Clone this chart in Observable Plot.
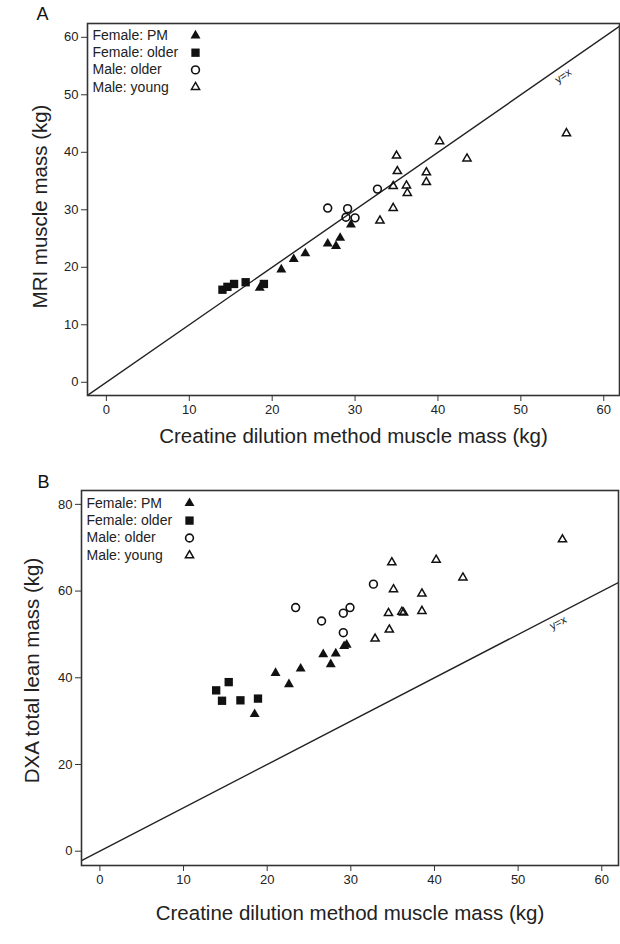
<!DOCTYPE html>
<html><head><meta charset="utf-8">
<script src="https://cdn.jsdelivr.net/npm/d3@7"></script>
<script src="https://cdn.jsdelivr.net/npm/@observablehq/plot@0.6"></script>
<style>body{margin:0;background:#fff;} #chart svg{display:block;}</style>
</head><body><div id="chart"></div>
<script>
const groups = ["Female: PM", "Female: older", "Male: older", "Male: young"];
const xTicks = [0, 10, 20, 30, 40, 50, 60];
const yTicksA = [0, 10, 20, 30, 40, 50, 60];
const yTicksB = [0, 20, 40, 60, 80];
const xTitle = "Creatine dilution method muscle mass (kg)";
const yTitleA = "MRI muscle mass (kg)";
const yTitleB = "DXA total lean mass (kg)";

// Panel A: creatine dilution vs MRI
const aFemalePMx = [18.5, 21.1, 22.6, 24.0, 26.7, 27.7, 28.2, 29.5];
const aFemalePMy = [16.4, 19.6, 21.4, 22.4, 24.1, 23.7, 25.1, 27.4];
const aFemaleOldx = [14.0, 14.6, 15.4, 16.8, 19.0];
const aFemaleOldy = [16.1, 16.6, 17.1, 17.4, 17.1];
const aMaleOldx = [26.7, 28.9, 29.1, 30.0, 32.7];
const aMaleOldy = [30.3, 28.7, 30.2, 28.6, 33.6];
const aMaleYoungx = [33.0, 34.6, 34.6, 35.0, 35.1, 36.2, 36.3, 38.6, 38.6, 40.2, 43.5, 55.5];
const aMaleYoungy = [28.1, 30.3, 34.1, 39.4, 36.7, 34.2, 32.9, 36.5, 34.8, 41.9, 38.9, 43.3];

// Panel B: creatine dilution vs DXA
const bFemalePMx = [18.5, 21.0, 22.6, 24.0, 26.7, 27.6, 28.2, 29.2, 29.5];
const bFemalePMy = [31.6, 41.1, 38.5, 42.1, 45.4, 43.1, 45.6, 47.3, 47.6];
const bFemaleOldx = [13.9, 14.6, 15.4, 16.8, 18.9];
const bFemaleOldy = [37.1, 34.7, 39.0, 34.8, 35.2];
const bMaleOldx = [23.4, 26.5, 29.1, 29.1, 29.9, 32.7];
const bMaleOldy = [56.2, 53.1, 50.4, 54.9, 56.2, 61.6];
const bMaleYoungx = [32.9, 34.5, 34.6, 34.9, 35.1, 36.1, 36.3, 38.5, 38.5, 40.2, 43.4, 55.3];
const bMaleYoungy = [49.0, 54.9, 51.1, 66.6, 60.4, 55.2, 55.0, 59.4, 55.4, 67.2, 63.1, 71.9];

const zip = (xs, ys) => xs.map((x, i) => ({x, y: ys[i]}));

const symbols = [
  {symbol: "triangle", fill: "#111", stroke: "none", r: 3.7, strokeWidth: 0},
  {symbol: "square", fill: "#111", stroke: "none", r: 4.7, strokeWidth: 0},
  {symbol: "circle", fill: "none", stroke: "#111", r: 3.9, strokeWidth: 1.6},
  {symbol: "triangle2", fill: "none", stroke: "#111", r: 3.9, strokeWidth: 1.5}
];

const font = "'Liberation Sans', Arial, Helvetica, sans-serif";

function panel(cfg) {
  const W = 620;
  const kx = (W - cfg.ml - cfg.mr) / (cfg.xDomain[1] - cfg.xDomain[0]);
  const ky = (cfg.height - cfg.mt - cfg.mb) / (cfg.yDomain[1] - cfg.yDomain[0]);
  const angle = -Math.atan(ky / kx) * 180 / Math.PI;
  const marks = [
    Plot.line(cfg.xDomain, {x: d => d, y: d => d, stroke: "#222", strokeWidth: 1.4, clip: true}),
    Plot.text([cfg.yxAt], {x: d => d, y: d => d, text: () => "y=x", rotate: angle, dx: cfg.yxDx, dy: cfg.yxDy, fontSize: 11, fill: "#222"}),
    Plot.frame({stroke: "#333", strokeWidth: 1.6}),
    Plot.axisX({ticks: xTicks, tickSize: 6, tickPadding: 3, label: null, fontSize: 13, stroke: "#333"}),
    Plot.axisY({ticks: cfg.yTicks, tickSize: 6, tickPadding: 3, label: null, fontSize: 13, stroke: "#333"}),
    Plot.text([xTitle], {frameAnchor: "bottom", dy: cfg.xTitleDy, textAnchor: "middle", lineAnchor: "middle", fontSize: 20.5, fill: "#222"}),
    Plot.text([cfg.yTitle], {frameAnchor: "left", rotate: -90, dx: cfg.yTitleDx, dy: cfg.yTitleDy, textAnchor: "middle", lineAnchor: "middle", fontSize: 20.5, fill: "#222"}),
    Plot.text([cfg.letter], {frameAnchor: "top-left", dx: cfg.letterDx, dy: cfg.letterDy, textAnchor: "middle", lineAnchor: "middle", fontSize: 18, fill: "#111"})
  ];
  cfg.series.forEach((s, i) => {
    const st = symbols[i];
    marks.push(Plot.dot(s, {x: "x", y: "y", symbol: st.symbol, fill: st.fill, stroke: st.stroke, r: st.r, strokeWidth: st.strokeWidth}));
    marks.push(Plot.text([groups[i]], {frameAnchor: "top-left", dx: 5, dy: cfg.legDy + i * cfg.legStep, textAnchor: "start", lineAnchor: "middle", fontSize: 14, fill: "#222"}));
    marks.push(Plot.dot([groups[i]], {frameAnchor: "top-left", dx: 108, dy: cfg.legDy + i * cfg.legStep, symbol: st.symbol, fill: st.fill, stroke: st.stroke, r: st.r, strokeWidth: st.strokeWidth}));
  });
  return Plot.plot({
    width: W, height: cfg.height,
    marginLeft: cfg.ml, marginRight: cfg.mr, marginTop: cfg.mt, marginBottom: cfg.mb,
    x: {domain: cfg.xDomain, label: null},
    y: {domain: cfg.yDomain, label: null},
    style: {fontFamily: font, fontSize: "13px", color: "#222", background: "#fff"},
    marks
  });
}

const chartA = panel({
  height: 450, ml: 87, mr: 1, mt: 23, mb: 55,
  xDomain: [-2.28, 61.9], yDomain: [-2.3, 62.4], yTicks: yTicksA,
  yTitle: yTitleA, letter: "A",
  yxAt: 54.5, yxDx: 5, yxDy: 7,
  xTitleDy: 41, yTitleDx: -47, yTitleDy: -3,
  letterDx: -45, letterDy: -9,
  legDy: 12, legStep: 17.2,
  series: [zip(aFemalePMx, aFemalePMy), zip(aFemaleOldx, aFemaleOldy), zip(aMaleOldx, aMaleOldy), zip(aMaleYoungx, aMaleYoungy)]
});

const chartB = panel({
  height: 494, ml: 81, mr: 2, mt: 40, mb: 79,
  xDomain: [-2.2, 62.0], yDomain: [-3.3, 83.2], yTicks: yTicksB,
  yTitle: yTitleB, letter: "B",
  yxAt: 54.3, yxDx: 4, yxDy: 7,
  xTitleDy: 47.5, yTitleDx: -49, yTitleDy: -7.5,
  letterDx: -38, letterDy: -8,
  legDy: 12.7, legStep: 17.4,
  series: [zip(bFemalePMx, bFemalePMy), zip(bFemaleOldx, bFemaleOldy), zip(bMaleOldx, bMaleOldy), zip(bMaleYoungx, bMaleYoungy)]
});

const root = document.getElementById("chart");
root.appendChild(chartA);
root.appendChild(chartB);
</script>
</body></html>
